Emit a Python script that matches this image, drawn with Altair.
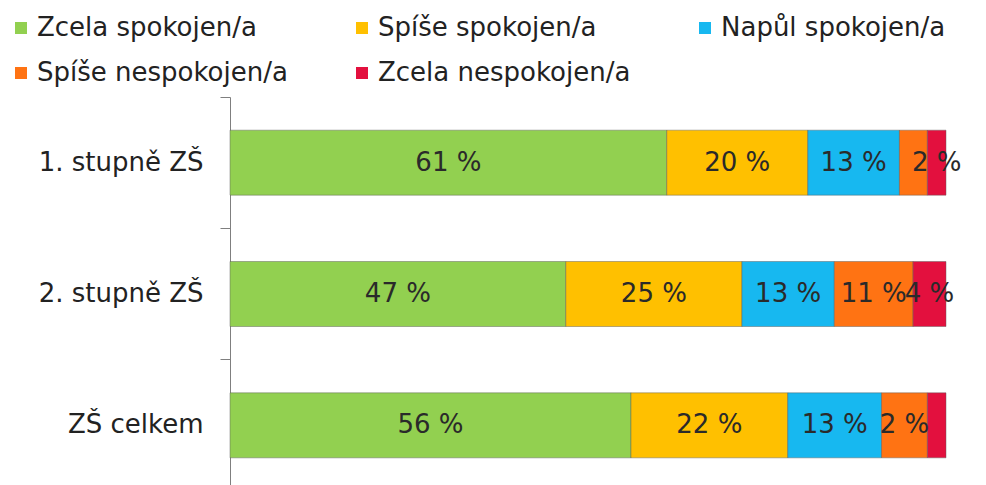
import altair as alt
import pandas as pd

categories = ["1. stupně ZŠ", "2. stupně ZŠ", "ZŠ celkem"]
series = ["Zcela spokojen/a", "Spíše spokojen/a", "Napůl spokojen/a",
          "Spíše nespokojen/a", "Zcela nespokojen/a"]
colors = ["#92D050", "#FFC000", "#17B8F0", "#FF7313", "#E3103E"]

zcela_spokojen = [61.0, 46.9, 56.0]
spise_spokojen = [19.7, 24.6, 21.9]
napul_spokojen = [12.8, 12.9, 13.1]
spise_nespokojen = [3.9, 11.0, 6.4]
zcela_nespokojen = [2.6, 4.6, 2.6]

zcela_spokojen_lbl = ["61 %", "47 %", "56 %"]
spise_spokojen_lbl = ["20 %", "25 %", "22 %"]
napul_spokojen_lbl = ["13 %", "13 %", "13 %"]
spise_nespokojen_lbl = ["", "11 %", "2 %"]
zcela_nespokojen_lbl = ["2 %", "4 %", ""]

values = [zcela_spokojen, spise_spokojen, napul_spokojen, spise_nespokojen, zcela_nespokojen]
labels = [zcela_spokojen_lbl, spise_spokojen_lbl, napul_spokojen_lbl,
          spise_nespokojen_lbl, zcela_nespokojen_lbl]

rows = []
for si, (s, vals, lbls) in enumerate(zip(series, values, labels)):
    for ci, c in enumerate(categories):
        rows.append({"category": c, "series": s, "order": si,
                     "value": vals[ci], "label": lbls[ci]})
df = pd.DataFrame(rows)

FONT = "DejaVu Sans"
FS = 26

base = alt.Chart(df).transform_stack(
    stack="value", groupby=["category"], as_=["start", "end"],
    sort=[alt.SortField("order", order="ascending")]
).transform_calculate(mid="(datum.start + datum.end) / 2")

y_enc = alt.Y("category:N", sort=categories,
              scale=alt.Scale(paddingInner=0, paddingOuter=0),
              axis=alt.Axis(title=None, bandPosition=0, tickSize=10,
                            tickColor="#7f7f7f", domainColor="#7f7f7f",
                            labelFont=FONT, labelFontSize=FS, labelColor="#222222",
                            labelPadding=17, labelLimit=0))

bars = base.mark_bar(size=65, stroke="#5a5a5a", strokeWidth=1, strokeOpacity=0.45).encode(
    y=y_enc,
    x=alt.X("start:Q", scale=alt.Scale(domain=[0, 100], nice=False, zero=True), axis=None),
    x2="end:Q",
    color=alt.Color("series:N", sort=series,
                    scale=alt.Scale(domain=series, range=colors),
                    legend=alt.Legend(title=None, orient="none", legendX=-222, legendY=-82,
                                      direction="horizontal", columns=3,
                                      columnPadding=61, rowPadding=19,
                                      symbolType="square", symbolSize=144,
                                      symbolStrokeWidth=0, labelOffset=3,
                                      labelFont=FONT, labelFontSize=FS,
                                      labelColor="#222222", labelLimit=0)),
    order=alt.Order("order:Q"),
)

text = base.mark_text(font=FONT, fontSize=FS, color="#2a2a2a").encode(
    y=alt.Y("category:N", sort=categories),
    x=alt.X("mid:Q"),
    text="label:N",
)

chart = alt.layer(bars, text).properties(
    width=716, height=394,
    padding={"left": 0, "top": 7, "right": 0, "bottom": 0},
    background="white",
).configure_view(stroke=None)

chart.save("out.html", embed_options={"renderer": "svg", "actions": False})
